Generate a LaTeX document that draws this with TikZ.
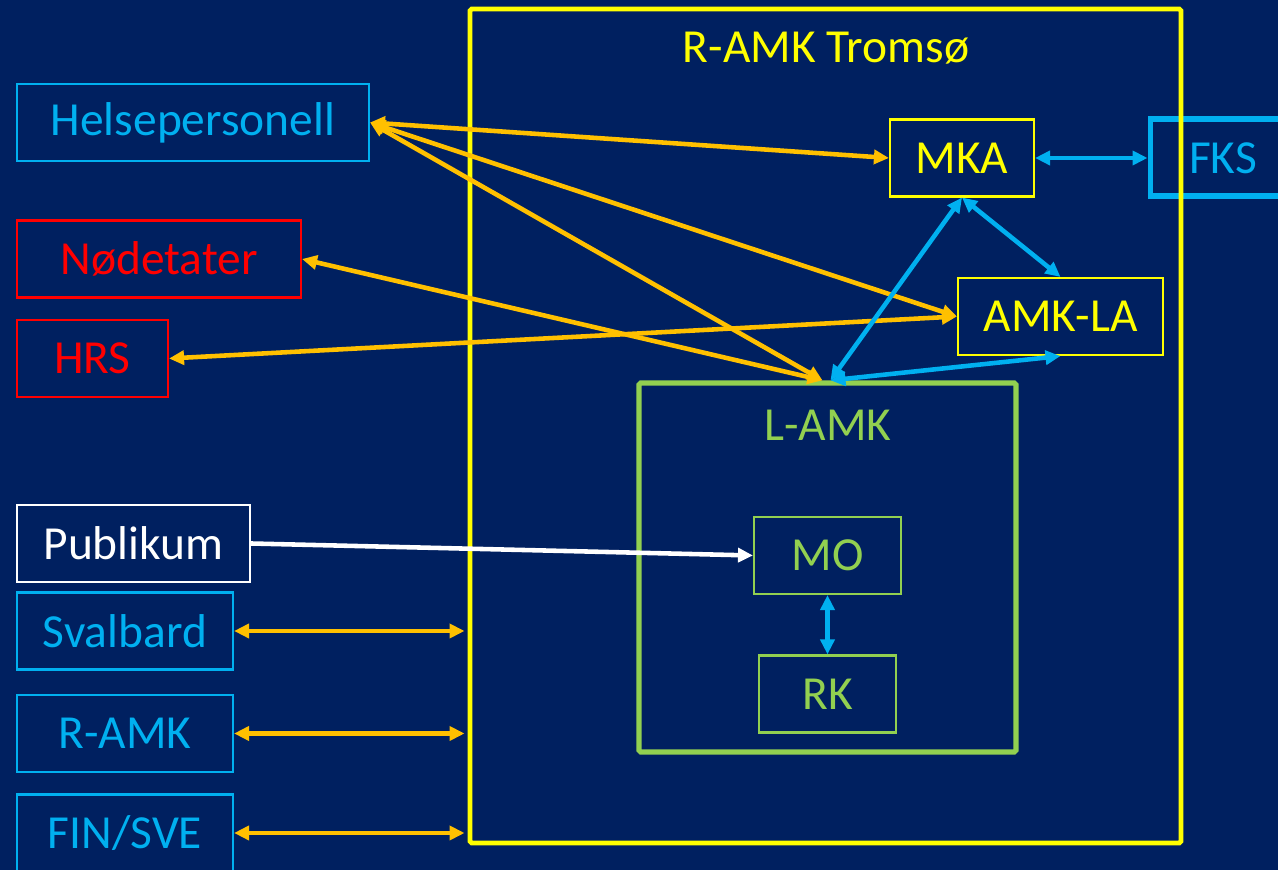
\documentclass[tikz,border=0pt]{standalone}
\usepackage{fontspec}
\setmainfont{Carlito}
\usetikzlibrary{arrows.meta,positioning,calc}
\definecolor{navy}{RGB}{0,32,96}
\definecolor{sky}{RGB}{0,176,240}
\definecolor{gold}{RGB}{255,192,0}
\definecolor{ylw}{RGB}{255,255,0}
\definecolor{lgreen}{RGB}{146,208,80}
\tikzset{
  box/.style={rectangle,draw,line width=0.6pt,minimum height=7.7mm,inner sep=0pt,font=\fontsize{13.5}{16}\selectfont},
  frame/.style={rectangle,draw,line width=1.4pt,rounded corners=0.5pt,inner sep=0pt},
  title/.style={font=\fontsize{13.5}{16}\selectfont,inner sep=0pt},
  oe/.style={{Triangle[length=1.5mm,width=1.4mm]}-{Triangle[length=1.5mm,width=1.4mm]},gold,line width=1.3pt},
  be/.style={{Triangle[length=1.5mm,width=1.4mm]}-{Triangle[length=1.5mm,width=1.4mm]},sky,line width=1.3pt},
  we/.style={-{Triangle[length=1.5mm,width=1.4mm]},white,line width=1.3pt}
}
\begin{document}
\begin{tikzpicture}
\useasboundingbox (0,0) rectangle (12.78,-8.70);
\fill[navy] (0,0) rectangle (12.78,-8.70);
% outside
\node[box,sky,minimum width=35.2mm] (helse) at (1.93,-1.225)  {Helsepersonell};
\node[box,red,minimum width=28.4mm] (nod)   at (1.59,-2.59)   {Nødetater};
\node[box,red,minimum width=15.1mm] (hrs)   at (0.925,-3.585) {HRS};
\node[box,white,minimum width=23.3mm] (pub) at (1.335,-5.435) {Publikum};
\node[box,sky,minimum width=21.6mm] (sval)  at (1.25,-6.31)   {Svalbard};
\node[box,sky,minimum width=21.6mm] (ramk)  at (1.25,-7.335)  {R-AMK};
\node[box,sky,minimum width=21.6mm] (finsve) at (1.25,-8.33)  {FIN/SVE};
\node[box,sky,line width=1.7pt,minimum width=14.5mm] (fks) at (12.23,-1.58) {FKS};
% R-AMK Tromsø
\node[frame,ylw,minimum width=71.1mm,minimum height=83.4mm] (tromso) at (8.255,-4.26) {};
\node[title,ylw] (tromsotitle) at (8.26,-0.48) {R-AMK Tromsø};
\node[box,ylw,minimum width=14.4mm] (mka)   at (9.62,-1.58)   {MKA};
\node[box,ylw,minimum width=20.5mm] (amkla) at (10.605,-3.165) {AMK-LA};
% L-AMK
\node[frame,lgreen,line width=1.5pt,minimum width=37.7mm,minimum height=36.9mm] (lamk) at (8.275,-5.675) {};
\node[title,lgreen] (lamktitle) at (8.28,-4.25) {L-AMK};
\node[box,lgreen,minimum width=14.7mm] (mo) at (8.275,-5.555) {MO};
\node[box,lgreen,minimum width=13.7mm] (rk) at (8.275,-6.94)  {RK};
% connectors
\draw[oe] (helse.east) -- (mka.west);
\draw[oe] (helse.east) -- (amkla.west);
\draw[oe] (helse.east) -- ([xshift=-0.5mm]lamk.north);
\draw[oe] (nod.east) -- ([xshift=-0.5mm]lamk.north);
\draw[oe] (hrs.east) -- (amkla.west);
\draw[we] (pub.east) -- (mo.west);
\draw[oe,shorten >=0.3mm] (sval.east) -- (sval.east -| tromso.west);
\draw[oe,shorten >=0.3mm] (ramk.east) -- (ramk.east -| tromso.west);
\draw[oe,shorten >=0.3mm] (finsve.east) -- (finsve.east -| tromso.west);
\draw[be] (mka.east) -- (fks.west);
\draw[be] (mka.south) -- ([xshift=0.3mm]lamk.north);
\draw[be] (mka.south) -- (amkla.north);
\draw[be] ([xshift=0.3mm]lamk.north) -- (amkla.south);
\draw[be] (mo.south) -- (rk.north);
\end{tikzpicture}
\end{document}
